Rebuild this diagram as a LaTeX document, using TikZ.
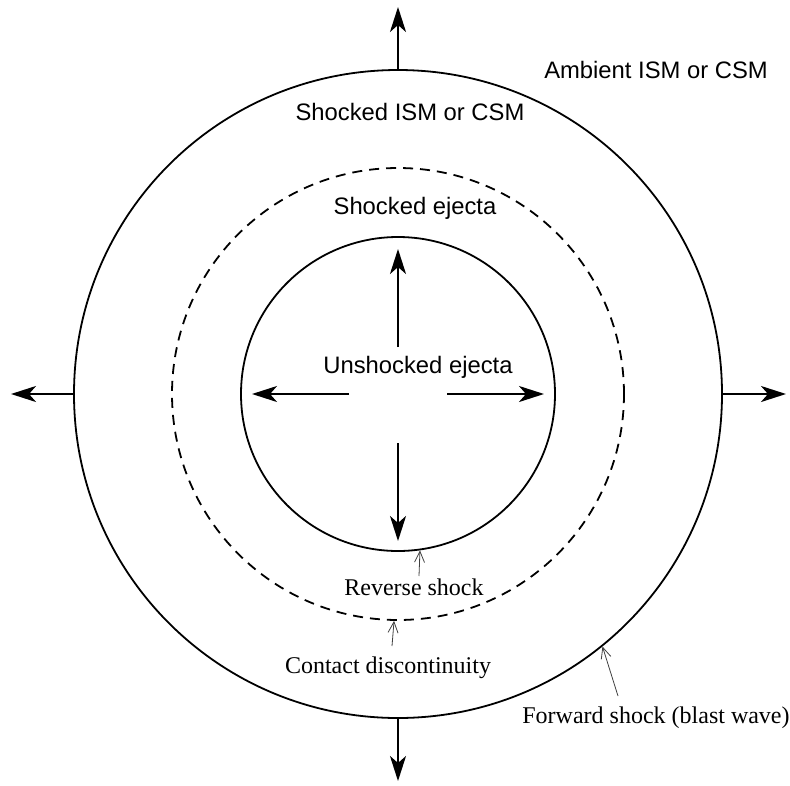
\documentclass[tikz,border=0pt]{standalone}
\usepackage{fontspec}
\setmainfont{Liberation Serif}
\setsansfont{Liberation Sans}
\usetikzlibrary{arrows.meta}
\begin{document}
\begin{tikzpicture}[x=1pt,y=-1pt,
  ring/.style={circle,draw,line width=1.8pt,inner sep=0pt},
  dashring/.style={ring,dashed,dash pattern=on 10pt off 7pt},
  bigarrow/.style={line width=2.4pt,-{Stealth[length=25pt,width=16pt,inset=7pt]}},
  thinarrow/.style={line width=0.8pt,draw=black!75,-{Straight Barb[length=11pt,width=10pt]}},
  sanslabel/.style={font=\sffamily\fontsize{23.8}{28}\selectfont,inner sep=0pt},
  seriflabel/.style={font=\rmfamily\fontsize{24}{28}\selectfont,inner sep=0pt}]
\useasboundingbox (0,0) rectangle (790,785);
\coordinate (c) at (398,394);
\node[ring,minimum size=648pt] (outer) at (c) {};
\node[dashring,minimum size=452pt] (contact) at (c) {};
\node[ring,minimum size=314pt] (inner) at (c) {};
% outer arrows
\coordinate (otop) at (398,7);
\coordinate (oleft) at (11,394);
\coordinate (oright) at (786,394);
\coordinate (obot) at (398,781);
\draw[bigarrow] (outer.north) -- (otop);
\draw[bigarrow] (outer.west) -- (oleft);
\draw[bigarrow] (outer.east) -- (oright);
\draw[bigarrow] (outer.south) -- (obot);
% inner arrows
\coordinate (iu0) at (398,347);
\coordinate (iu1) at (398,249);
\coordinate (il0) at (349,394);
\coordinate (il1) at (252,394);
\coordinate (ir0) at (447,394);
\coordinate (ir1) at (544,394);
\coordinate (id0) at (398,443);
\coordinate (id1) at (398,541);
\draw[bigarrow] (iu0) -- (iu1);
\draw[bigarrow] (il0) -- (il1);
\draw[bigarrow] (ir0) -- (ir1);
\draw[bigarrow] (id0) -- (id1);
% labels
\node[sanslabel] (amb) at (656,70) {Ambient ISM or CSM};
\node[sanslabel] (sism) at (410,112) {Shocked ISM or CSM};
\node[sanslabel] (sej) at (415,208) {Shocked ejecta};
\node[sanslabel] (uej) at (418,367) {Unshocked ejecta};
\node[seriflabel] (rev) at (414,587) {Reverse shock};
\node[seriflabel] (cd) at (388,668) {Contact discontinuity};
\node[seriflabel] (fs) at (656,718) {Forward shock (blast wave)};
% label pointers
\coordinate (revs) at (419,576);
\coordinate (cds) at (392,646);
\coordinate (fss) at (618,696);
\draw[thinarrow] (revs) -- (inner.-82.3);
\draw[thinarrow] (cds) -- (contact.-91.5);
\draw[thinarrow] (fss) -- (outer.-51.3);
\end{tikzpicture}
\end{document}
